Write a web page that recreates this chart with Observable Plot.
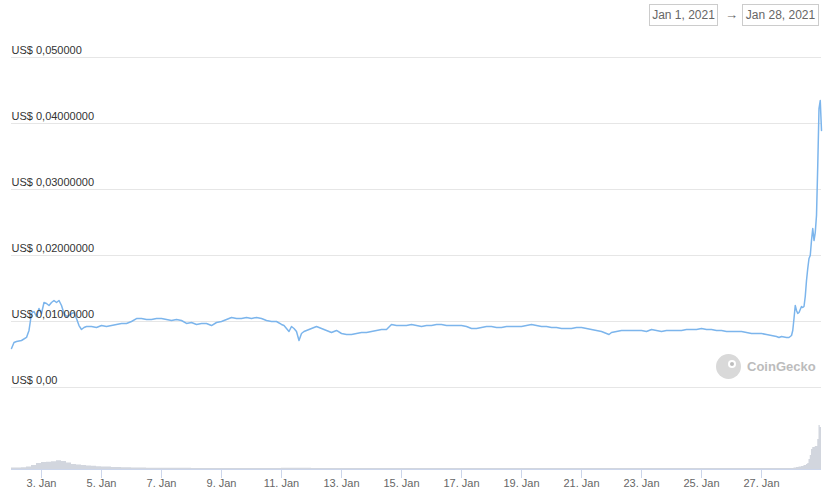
<!DOCTYPE html>
<html>
<head>
<meta charset="utf-8">
<script src="https://cdn.jsdelivr.net/npm/d3@7"></script>
<script src="https://cdn.jsdelivr.net/npm/@observablehq/plot@0.6"></script>
<style>
  html, body { margin: 0; padding: 0; background: #fff; }
  #wrap { position: relative; width: 824px; height: 494px; overflow: hidden; font-family: "Liberation Sans", Arial, sans-serif; }
  #wrap svg { display: block; }
  .box { position: absolute; top: 4px; height: 22px; border: 1px solid #cccccc; box-sizing: border-box;
         font-size: 12px; color: #666; line-height: 20px; text-align: center; background: #fff; }
  .arrow { position: absolute; top: 4px; left: 725px; font-size: 13px; color: #666; line-height: 22px; }
  .wm { position: absolute; left: 716px; top: 353px; height: 26px; display: flex; align-items: center; }
  .wm .logo { width: 25px; height: 25px; border-radius: 50%; background: #d9d9d9; position: relative; }
  .wm .eye { position: absolute; left: 12px; top: 6px; width: 8px; height: 8px; border-radius: 50%; background: #fff; }
  .wm .pupil { position: absolute; left: 2px; top: 2px; width: 4px; height: 4px; border-radius: 50%; background: #bdbdbd; }
  .wm .txt { margin-left: 6px; font-size: 13px; color: #bcbcbc; font-weight: bold; }
</style>
</head>
<body>
<div id="wrap">
  <div class="box" style="left:649px;width:69px;">Jan 1, 2021</div>
  <div class="arrow">→</div>
  <div class="box" style="left:742px;width:77px;">Jan 28, 2021</div>
  <div id="price"></div>
  <div id="vol"></div>
  <div class="wm"><div class="logo"><div class="eye"><div class="pupil"></div></div></div><span class="txt">CoinGecko</span></div>
</div>
<script>
// ---- data ----
const xDomainTime = ["2021-01-02T00", "2021-01-29T00"];
const yTicks = [0, 0.01, 0.02, 0.03, 0.04, 0.05];
const yTickLabels = ["US$ 0,00", "US$ 0,01000000", "US$ 0,02000000", "US$ 0,03000000", "US$ 0,04000000", "US$ 0,050000"];
const xTickTime = ["2021-01-03T00","2021-01-05T00","2021-01-07T00","2021-01-09T00","2021-01-11T00","2021-01-13T00",
  "2021-01-15T00","2021-01-17T00","2021-01-19T00","2021-01-21T00","2021-01-23T00","2021-01-25T00","2021-01-27T00"];

const priceTime = [
  "2021-01-02T00","2021-01-02T02","2021-01-02T04","2021-01-02T08","2021-01-02T12","2021-01-02T14","2021-01-02T16","2021-01-02T18","2021-01-02T20","2021-01-02T22",
  "2021-01-03T00","2021-01-03T02","2021-01-03T04","2021-01-03T06","2021-01-03T08","2021-01-03T10","2021-01-03T12","2021-01-03T14","2021-01-03T16","2021-01-03T18","2021-01-03T20","2021-01-03T22",
  "2021-01-04T00","2021-01-04T02","2021-01-04T04","2021-01-04T06","2021-01-04T08","2021-01-04T10","2021-01-04T12","2021-01-04T16","2021-01-04T20",
  "2021-01-05T00","2021-01-05T04","2021-01-05T08","2021-01-05T12","2021-01-05T16","2021-01-05T20",
  "2021-01-06T00","2021-01-06T04","2021-01-06T08","2021-01-06T12","2021-01-06T16","2021-01-06T20",
  "2021-01-07T00","2021-01-07T04","2021-01-07T08","2021-01-07T12","2021-01-07T16","2021-01-07T20",
  "2021-01-08T00","2021-01-08T04","2021-01-08T08","2021-01-08T12","2021-01-08T16","2021-01-08T20",
  "2021-01-09T00","2021-01-09T04","2021-01-09T08","2021-01-09T12","2021-01-09T16","2021-01-09T20",
  "2021-01-10T00","2021-01-10T04","2021-01-10T08","2021-01-10T12","2021-01-10T16","2021-01-10T20",
  "2021-01-11T00","2021-01-11T02","2021-01-11T04","2021-01-11T06","2021-01-11T08","2021-01-11T10","2021-01-11T12","2021-01-11T14","2021-01-11T16","2021-01-11T18","2021-01-11T20","2021-01-11T22",
  "2021-01-12T00","2021-01-12T04","2021-01-12T08","2021-01-12T12","2021-01-12T16","2021-01-12T20",
  "2021-01-13T00","2021-01-13T04","2021-01-13T08","2021-01-13T12","2021-01-13T16","2021-01-13T20",
  "2021-01-14T00","2021-01-14T04","2021-01-14T08","2021-01-14T12","2021-01-14T16","2021-01-14T20",
  "2021-01-15T00","2021-01-15T04","2021-01-15T08","2021-01-15T12","2021-01-15T16","2021-01-15T20",
  "2021-01-16T00","2021-01-16T04","2021-01-16T08","2021-01-16T12","2021-01-16T16","2021-01-16T20",
  "2021-01-17T00","2021-01-17T04","2021-01-17T08","2021-01-17T12","2021-01-17T16","2021-01-17T20",
  "2021-01-18T00","2021-01-18T04","2021-01-18T08","2021-01-18T12","2021-01-18T16","2021-01-18T20",
  "2021-01-19T00","2021-01-19T04","2021-01-19T08","2021-01-19T12","2021-01-19T16","2021-01-19T20",
  "2021-01-20T00","2021-01-20T04","2021-01-20T08","2021-01-20T12","2021-01-20T16","2021-01-20T20",
  "2021-01-21T00","2021-01-21T04","2021-01-21T08","2021-01-21T12","2021-01-21T16","2021-01-21T20","2021-01-21T22",
  "2021-01-22T00","2021-01-22T04","2021-01-22T08","2021-01-22T12","2021-01-22T16","2021-01-22T20",
  "2021-01-23T00","2021-01-23T04","2021-01-23T08","2021-01-23T12","2021-01-23T16","2021-01-23T20",
  "2021-01-24T00","2021-01-24T04","2021-01-24T08","2021-01-24T12","2021-01-24T16","2021-01-24T20",
  "2021-01-25T00","2021-01-25T04","2021-01-25T08","2021-01-25T12","2021-01-25T16","2021-01-25T20",
  "2021-01-26T00","2021-01-26T04","2021-01-26T08","2021-01-26T12","2021-01-26T16","2021-01-26T20",
  "2021-01-27T00","2021-01-27T04","2021-01-27T08","2021-01-27T12","2021-01-27T14","2021-01-27T16","2021-01-27T20","2021-01-27T22",
  "2021-01-28T00","2021-01-28T01","2021-01-28T02","2021-01-28T03","2021-01-28T04","2021-01-28T05","2021-01-28T06","2021-01-28T07",
  "2021-01-28T08","2021-01-28T09","2021-01-28T10","2021-01-28T11","2021-01-28T12","2021-01-28T13","2021-01-28T14","2021-01-28T15",
  "2021-01-28T16","2021-01-28T17","2021-01-28T18","2021-01-28T19","2021-01-28T20","2021-01-28T21","2021-01-28T22","2021-01-28T23",
  "2021-01-29T00"
];
const priceUsd = [
  0.00591,0.00682,0.00697,0.00712,0.00758,0.00864,0.01121,0.01152,0.01076,0.01197,
  0.01121,0.01288,0.01273,0.01242,0.01288,0.01318,0.01288,0.01318,0.01242,0.01121,0.01076,0.01091,
  0.01121,0.01136,0.01045,0.00939,0.00879,0.00909,0.00924,0.00924,0.00909,
  0.00939,0.00924,0.00939,0.00955,0.00970,0.00970,
  0.01000,0.01045,0.01045,0.01030,0.01030,0.01045,
  0.01045,0.01030,0.01015,0.01030,0.01015,0.00970,
  0.00985,0.00955,0.00970,0.00970,0.00939,0.00985,
  0.01000,0.01030,0.01061,0.01045,0.01045,0.01061,
  0.01045,0.01061,0.01045,0.01015,0.01000,0.01000,
  0.00955,0.00939,0.00894,0.00848,0.00924,0.00894,0.00848,0.00712,0.00818,0.00848,0.00864,0.00879,
  0.00894,0.00924,0.00894,0.00864,0.00833,0.00864,
  0.00818,0.00803,0.00803,0.00818,0.00833,0.00833,
  0.00848,0.00864,0.00879,0.00879,0.00955,0.00939,
  0.00939,0.00939,0.00955,0.00939,0.00924,0.00939,
  0.00939,0.00955,0.00955,0.00939,0.00939,0.00939,
  0.00939,0.00924,0.00894,0.00894,0.00909,0.00924,
  0.00924,0.00909,0.00909,0.00924,0.00924,0.00924,
  0.00924,0.00939,0.00955,0.00939,0.00924,0.00924,
  0.00909,0.00909,0.00894,0.00894,0.00894,0.00909,
  0.00909,0.00894,0.00879,0.00864,0.00848,0.00818,0.00803,
  0.00833,0.00848,0.00864,0.00864,0.00864,0.00864,
  0.00864,0.00848,0.00879,0.00864,0.00848,0.00864,
  0.00864,0.00864,0.00864,0.00879,0.00879,0.00879,
  0.00894,0.00879,0.00879,0.00864,0.00864,0.00848,
  0.00848,0.00848,0.00848,0.00833,0.00818,0.00818,
  0.00818,0.00803,0.00788,0.00773,0.00758,0.00773,0.00758,0.00758,
  0.00788,0.00864,0.01045,0.01242,0.01167,0.01121,0.01136,0.01182,
  0.01227,0.01212,0.01227,0.01379,0.01621,0.01803,0.01955,0.02000,
  0.02227,0.02409,0.02227,0.02348,0.02606,0.03364,0.04227,0.04348,
  0.03894
];

const volumeTime = [
  "2021-01-02T00","2021-01-02T04","2021-01-02T08","2021-01-02T12","2021-01-02T16","2021-01-02T20",
  "2021-01-03T00","2021-01-03T04","2021-01-03T08","2021-01-03T12","2021-01-03T16","2021-01-03T20",
  "2021-01-04T00","2021-01-04T04","2021-01-04T08","2021-01-04T12","2021-01-04T16","2021-01-04T20",
  "2021-01-05T00","2021-01-05T08","2021-01-05T16","2021-01-06T00","2021-01-06T12",
  "2021-01-07T00","2021-01-08T00","2021-01-09T00","2021-01-10T00","2021-01-11T00","2021-01-12T00","2021-01-13T00",
  "2021-01-14T00","2021-01-15T00","2021-01-16T00","2021-01-17T00","2021-01-18T00","2021-01-19T00","2021-01-20T00",
  "2021-01-21T00","2021-01-22T00","2021-01-23T00","2021-01-24T00","2021-01-25T00","2021-01-26T00","2021-01-27T00",
  "2021-01-28T00","2021-01-28T02","2021-01-28T04","2021-01-28T06","2021-01-28T08","2021-01-28T10","2021-01-28T12",
  "2021-01-28T13","2021-01-28T14","2021-01-28T15","2021-01-28T16","2021-01-28T17","2021-01-28T18","2021-01-28T19",
  "2021-01-28T20","2021-01-28T21","2021-01-28T22","2021-01-28T23","2021-01-29T00"
];
const volumeK = [
  15,15,18,25,40,60,
  70,72,78,88,80,65,
  50,45,40,35,32,28,
  26,20,17,14,13,
  12,11,10,10,12,10,9,
  9,10,9,9,9,9,9,
  9,9,9,9,9,9,9,
  10,15,20,25,30,40,50,
  60,100,140,200,220,220,230,
  230,300,440,420,400
];

// ---- build ----
const parse = d3.utcParse("%Y-%m-%dT%H");
const xDomain = xDomainTime.map(parse);
const xTicks = xTickTime.map(parse);
const price = priceTime.map((t, i) => ({date: parse(t), price: priceUsd[i]}));
const volume = volumeTime.map((t, i) => ({date: parse(t), vol: volumeK[i]}));
const font = {background: "transparent", fontFamily: "'Liberation Sans', Arial, sans-serif", fontSize: "11px", overflow: "visible"};

const pricePlot = Plot.plot({
  width: 824, height: 400,
  marginLeft: 11, marginRight: 3, marginTop: 57, marginBottom: 13,
  style: font,
  x: {type: "utc", domain: xDomain, axis: null},
  y: {domain: [0, 0.05], axis: null},
  marks: [
    Plot.ruleY(yTicks, {y: d => d, stroke: "#e6e6e6", strokeWidth: 1}),
    Plot.line(price, {x: "date", y: "price", stroke: "#7cb5ec", strokeWidth: 1.5, curve: "linear"}),
    Plot.text(yTicks, {y: d => d, text: (d, i) => yTickLabels[i], frameAnchor: "left", textAnchor: "start",
      dy: -7, fill: "#333333", fontSize: 11})
  ]
});
document.getElementById("price").appendChild(pricePlot);

const volPlot = Plot.plot({
  width: 824, height: 94,
  marginLeft: 11, marginRight: 3, marginTop: 24, marginBottom: 25,
  style: font,
  x: {type: "utc", domain: xDomain},
  y: {domain: [0, 450], axis: null},
  marks: [
    Plot.areaY(volume, {x: "date", y: "vol", curve: "step-after", fill: "#d2d6de"}),
    Plot.ruleY([0], {stroke: "#ccd6eb"}),
    Plot.axisX(xTicks, {tickSize: 9, tickPadding: 1, stroke: "#ccd6eb", color: "#666666",
      tickFormat: d3.utcFormat("%-d. %b"), fontSize: 11, label: null})
  ]
});
document.getElementById("vol").appendChild(volPlot);
</script>
</body>
</html>
